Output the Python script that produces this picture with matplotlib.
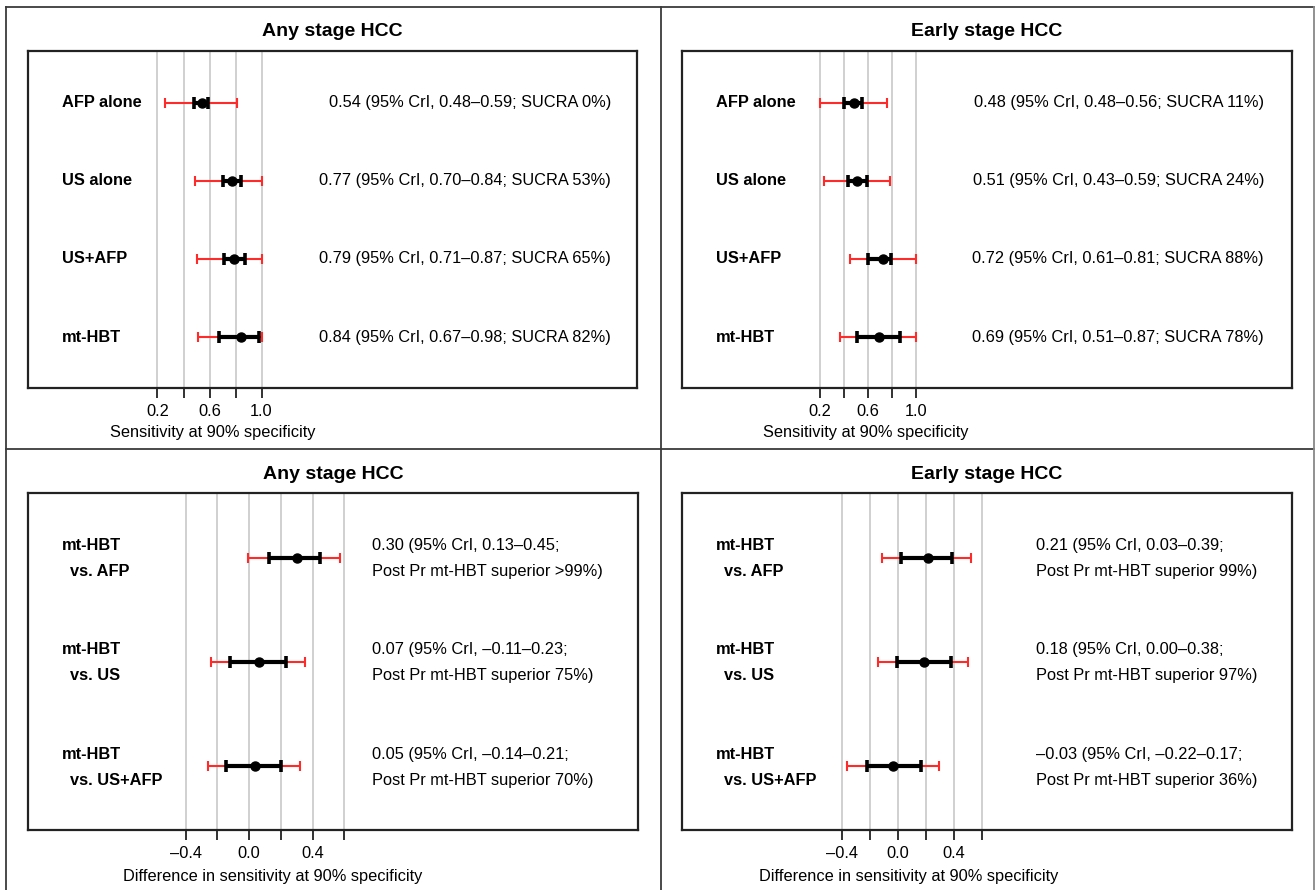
import matplotlib
matplotlib.use("Agg")
import matplotlib.pyplot as plt
from matplotlib.lines import Line2D
import matplotlib.transforms as mtransforms

plt.rcParams['font.family'] = ['Liberation Sans', 'DejaVu Sans']

W, H = 1315, 890
DPI = 100

# ---------------- data ----------------
top_labels = ["AFP alone", "US alone", "US+AFP", "mt-HBT"]

any_point = [0.54, 0.77, 0.79, 0.84]
any_cri_lo = [0.48, 0.70, 0.71, 0.67]
any_cri_hi = [0.59, 0.84, 0.87, 0.98]
any_pi_lo = [0.26, 0.49, 0.505, 0.515]
any_pi_hi = [0.81, 1.00, 1.00, 1.00]
any_text = ["0.54 (95% CrI, 0.48\u20130.59; SUCRA 0%)",
            "0.77 (95% CrI, 0.70\u20130.84; SUCRA 53%)",
            "0.79 (95% CrI, 0.71\u20130.87; SUCRA 65%)",
            "0.84 (95% CrI, 0.67\u20130.98; SUCRA 82%)"]

early_point = [0.48, 0.51, 0.72, 0.69]
early_cri_lo = [0.40, 0.43, 0.60, 0.51]
early_cri_hi = [0.55, 0.59, 0.79, 0.865]
early_pi_lo = [0.20, 0.235, 0.445, 0.365]
early_pi_hi = [0.76, 0.785, 1.00, 1.00]
early_text = ["0.48 (95% CrI, 0.48\u20130.56; SUCRA 11%)",
              "0.51 (95% CrI, 0.43\u20130.59; SUCRA 24%)",
              "0.72 (95% CrI, 0.61\u20130.81; SUCRA 88%)",
              "0.69 (95% CrI, 0.51\u20130.87; SUCRA 78%)"]

bot_labels1 = ["mt-HBT", "mt-HBT", "mt-HBT"]
bot_labels2 = ["vs. AFP", "vs. US", "vs. US+AFP"]

dany_point = [0.30, 0.06, 0.04]
dany_cri_lo = [0.125, -0.118, -0.147]
dany_cri_hi = [0.445, 0.232, 0.203]
dany_pi_lo = [-0.006, -0.238, -0.257]
dany_pi_hi = [0.576, 0.352, 0.32]
dany_text1 = ["0.30 (95% CrI, 0.13\u20130.45;",
              "0.07 (95% CrI, \u20130.11\u20130.23;",
              "0.05 (95% CrI, \u20130.14\u20130.21;"]
dany_text2 = ["Post Pr mt-HBT superior >99%)",
              "Post Pr mt-HBT superior 75%)",
              "Post Pr mt-HBT superior 70%)"]

dearly_point = [0.216, 0.186, -0.034]
dearly_cri_lo = [0.026, -0.005, -0.221]
dearly_cri_hi = [0.39, 0.376, 0.166]
dearly_pi_lo = [-0.109, -0.14, -0.362]
dearly_pi_hi = [0.524, 0.50, 0.293]
dearly_text1 = ["0.21 (95% CrI, 0.03\u20130.39;",
                "0.18 (95% CrI, 0.00\u20130.38;",
                "\u20130.03 (95% CrI, \u20130.22\u20130.17;"]
dearly_text2 = ["Post Pr mt-HBT superior 99%)",
                "Post Pr mt-HBT superior 97%)",
                "Post Pr mt-HBT superior 36%)"]

top_ticks = [0.2, 0.4, 0.6, 0.8, 1.0]
top_ticklabels = ["0.2", "", "0.6", "", "1.0"]
bot_ticks = [-0.4, -0.2, 0.0, 0.2, 0.4, 0.6]
bot_ticklabels = ["\u20130.4", "", "0.0", "", "0.4", ""]

titles = ["Any stage HCC", "Early stage HCC", "Any stage HCC", "Early stage HCC"]
xlabel_top = "Sensitivity at 90% specificity"
xlabel_bot = "Difference in sensitivity at 90% specificity"

# ---------------- figure ----------------
fig = plt.figure(figsize=(W / DPI, H / DPI), dpi=DPI)
FS = 11.8


def rect(x0, y0, x1, y1):
    return [x0 / W, 1 - y1 / H, (x1 - x0) / W, (y1 - y0) / H]


def fx(px):
    return px / W


def fy(py):
    return 1 - py / H


# panel borders
border_col = "#3a3a3a"
for (xa, ya, xb, yb) in [(6, 7, 1313.5, 7), (6, 449, 1313.5, 449),
                         (6, 7, 6, 890), (660.5, 7, 660.5, 890),
                         (1313.5, 7, 1313.5, 890)]:
    fig.add_artist(Line2D([fx(xa), fx(xb)], [fy(ya), fy(yb)],
                          color=border_col if xa != 1313.5 else "#888888",
                          lw=1.3, transform=fig.transFigure))

GRID = "#d0d0d0"
RED = "#ff2a2a"


def make_panel(box, xlim, ylim, ticks, ticklabels, n, point, lo, hi, plo, phi):
    ax = fig.add_axes(rect(*box))
    ax.set_xlim(*xlim)
    ax.set_ylim(*ylim)
    for s in ax.spines.values():
        s.set_linewidth(1.6)
        s.set_color("#222222")
    ax.set_yticks([])
    ax.set_xticks(ticks)
    ax.set_xticklabels(ticklabels, fontsize=FS)
    ax.tick_params(axis='x', direction='out', length=7.5, width=1.3, pad=4,
                   color="#222222")
    for t in ticks:
        ax.axvline(t, color=GRID, lw=1.4, zorder=0)
    ys = list(range(1, n + 1))
    for i in range(n):
        ax.errorbar([point[i]], [ys[i]],
                    xerr=[[point[i] - plo[i]], [phi[i] - point[i]]],
                    fmt='none', ecolor=RED, elinewidth=1.5, capsize=3.4,
                    capthick=1.5, zorder=2)
        ax.errorbar([point[i]], [ys[i]],
                    xerr=[[point[i] - lo[i]], [hi[i] - point[i]]],
                    fmt='o', color='black', ms=6.5, elinewidth=3.0,
                    capsize=4.0, capthick=2.6, zorder=3)
    return ax


# ---- top-left
ax1 = make_panel((28, 51, 637, 388), (-0.796, 3.888), (4.65, 0.34),
                 top_ticks, top_ticklabels, 4,
                 any_point, any_cri_lo, any_cri_hi, any_pi_lo, any_pi_hi)
# ---- top-right
ax2 = make_panel((682, 51, 1292, 388), (-0.9525, 4.131), (4.65, 0.34),
                 top_ticks, top_ticklabels, 4,
                 early_point, early_cri_lo, early_cri_hi, early_pi_lo, early_pi_hi)
# ---- bottom-left
ax3 = make_panel((28, 493, 638, 830), (-1.394, 2.452), (3.614, 0.379),
                 bot_ticks, bot_ticklabels, 3,
                 dany_point, dany_cri_lo, dany_cri_hi, dany_pi_lo, dany_pi_hi)
# ---- bottom-right
ax4 = make_panel((682, 493, 1292, 830), (-1.538, 2.81), (3.614, 0.379),
                 bot_ticks, bot_ticklabels, 3,
                 dearly_point, dearly_cri_lo, dearly_cri_hi, dearly_pi_lo, dearly_pi_hi)

# labels and annotations, top panels
for ax, texts, xr in [(ax1, any_text, 0.957), (ax2, early_text, 0.954)]:
    tr = mtransforms.blended_transform_factory(ax.transAxes, ax.transData)
    for i, lab in enumerate(top_labels):
        ax.text(0.056, i + 1, lab, transform=tr, ha='left', va='center',
                fontsize=FS, fontweight='bold')
        ax.text(xr, i + 1, texts[i], transform=tr, ha='right', va='center',
                fontsize=FS)

# bottom panels
for ax, t1, t2, xl in [(ax3, dany_text1, dany_text2, 0.564),
                       (ax4, dearly_text1, dearly_text2, 0.580)]:
    tr = mtransforms.blended_transform_factory(ax.transAxes, ax.transData)
    for i in range(3):
        y = i + 1
        ax.text(0.056, y - 0.115, bot_labels1[i], transform=tr, ha='left',
                va='center', fontsize=FS, fontweight='bold')
        ax.text(0.069, y + 0.135, bot_labels2[i], transform=tr, ha='left',
                va='center', fontsize=FS, fontweight='bold')
        ax.text(xl, y - 0.115, t1[i], transform=tr, ha='left', va='center',
                fontsize=FS)
        ax.text(xl, y + 0.135, t2[i], transform=tr, ha='left', va='center',
                fontsize=FS)

# titles
for cx, cy, t in [(332.5, 31, titles[0]), (987, 31, titles[1]),
                  (333, 474, titles[2]), (987, 474, titles[3])]:
    fig.text(fx(cx), fy(cy), t, ha='center', va='center', fontsize=14,
             fontweight='bold')

# x labels
for cx, cy, t in [(212.5, 433, xlabel_top), (866, 433, xlabel_top),
                  (273, 876, xlabel_bot), (909, 876, xlabel_bot)]:
    fig.text(fx(cx), fy(cy), t, ha='center', va='center', fontsize=11.8)

fig.savefig("out.png", dpi=DPI, facecolor='white')
